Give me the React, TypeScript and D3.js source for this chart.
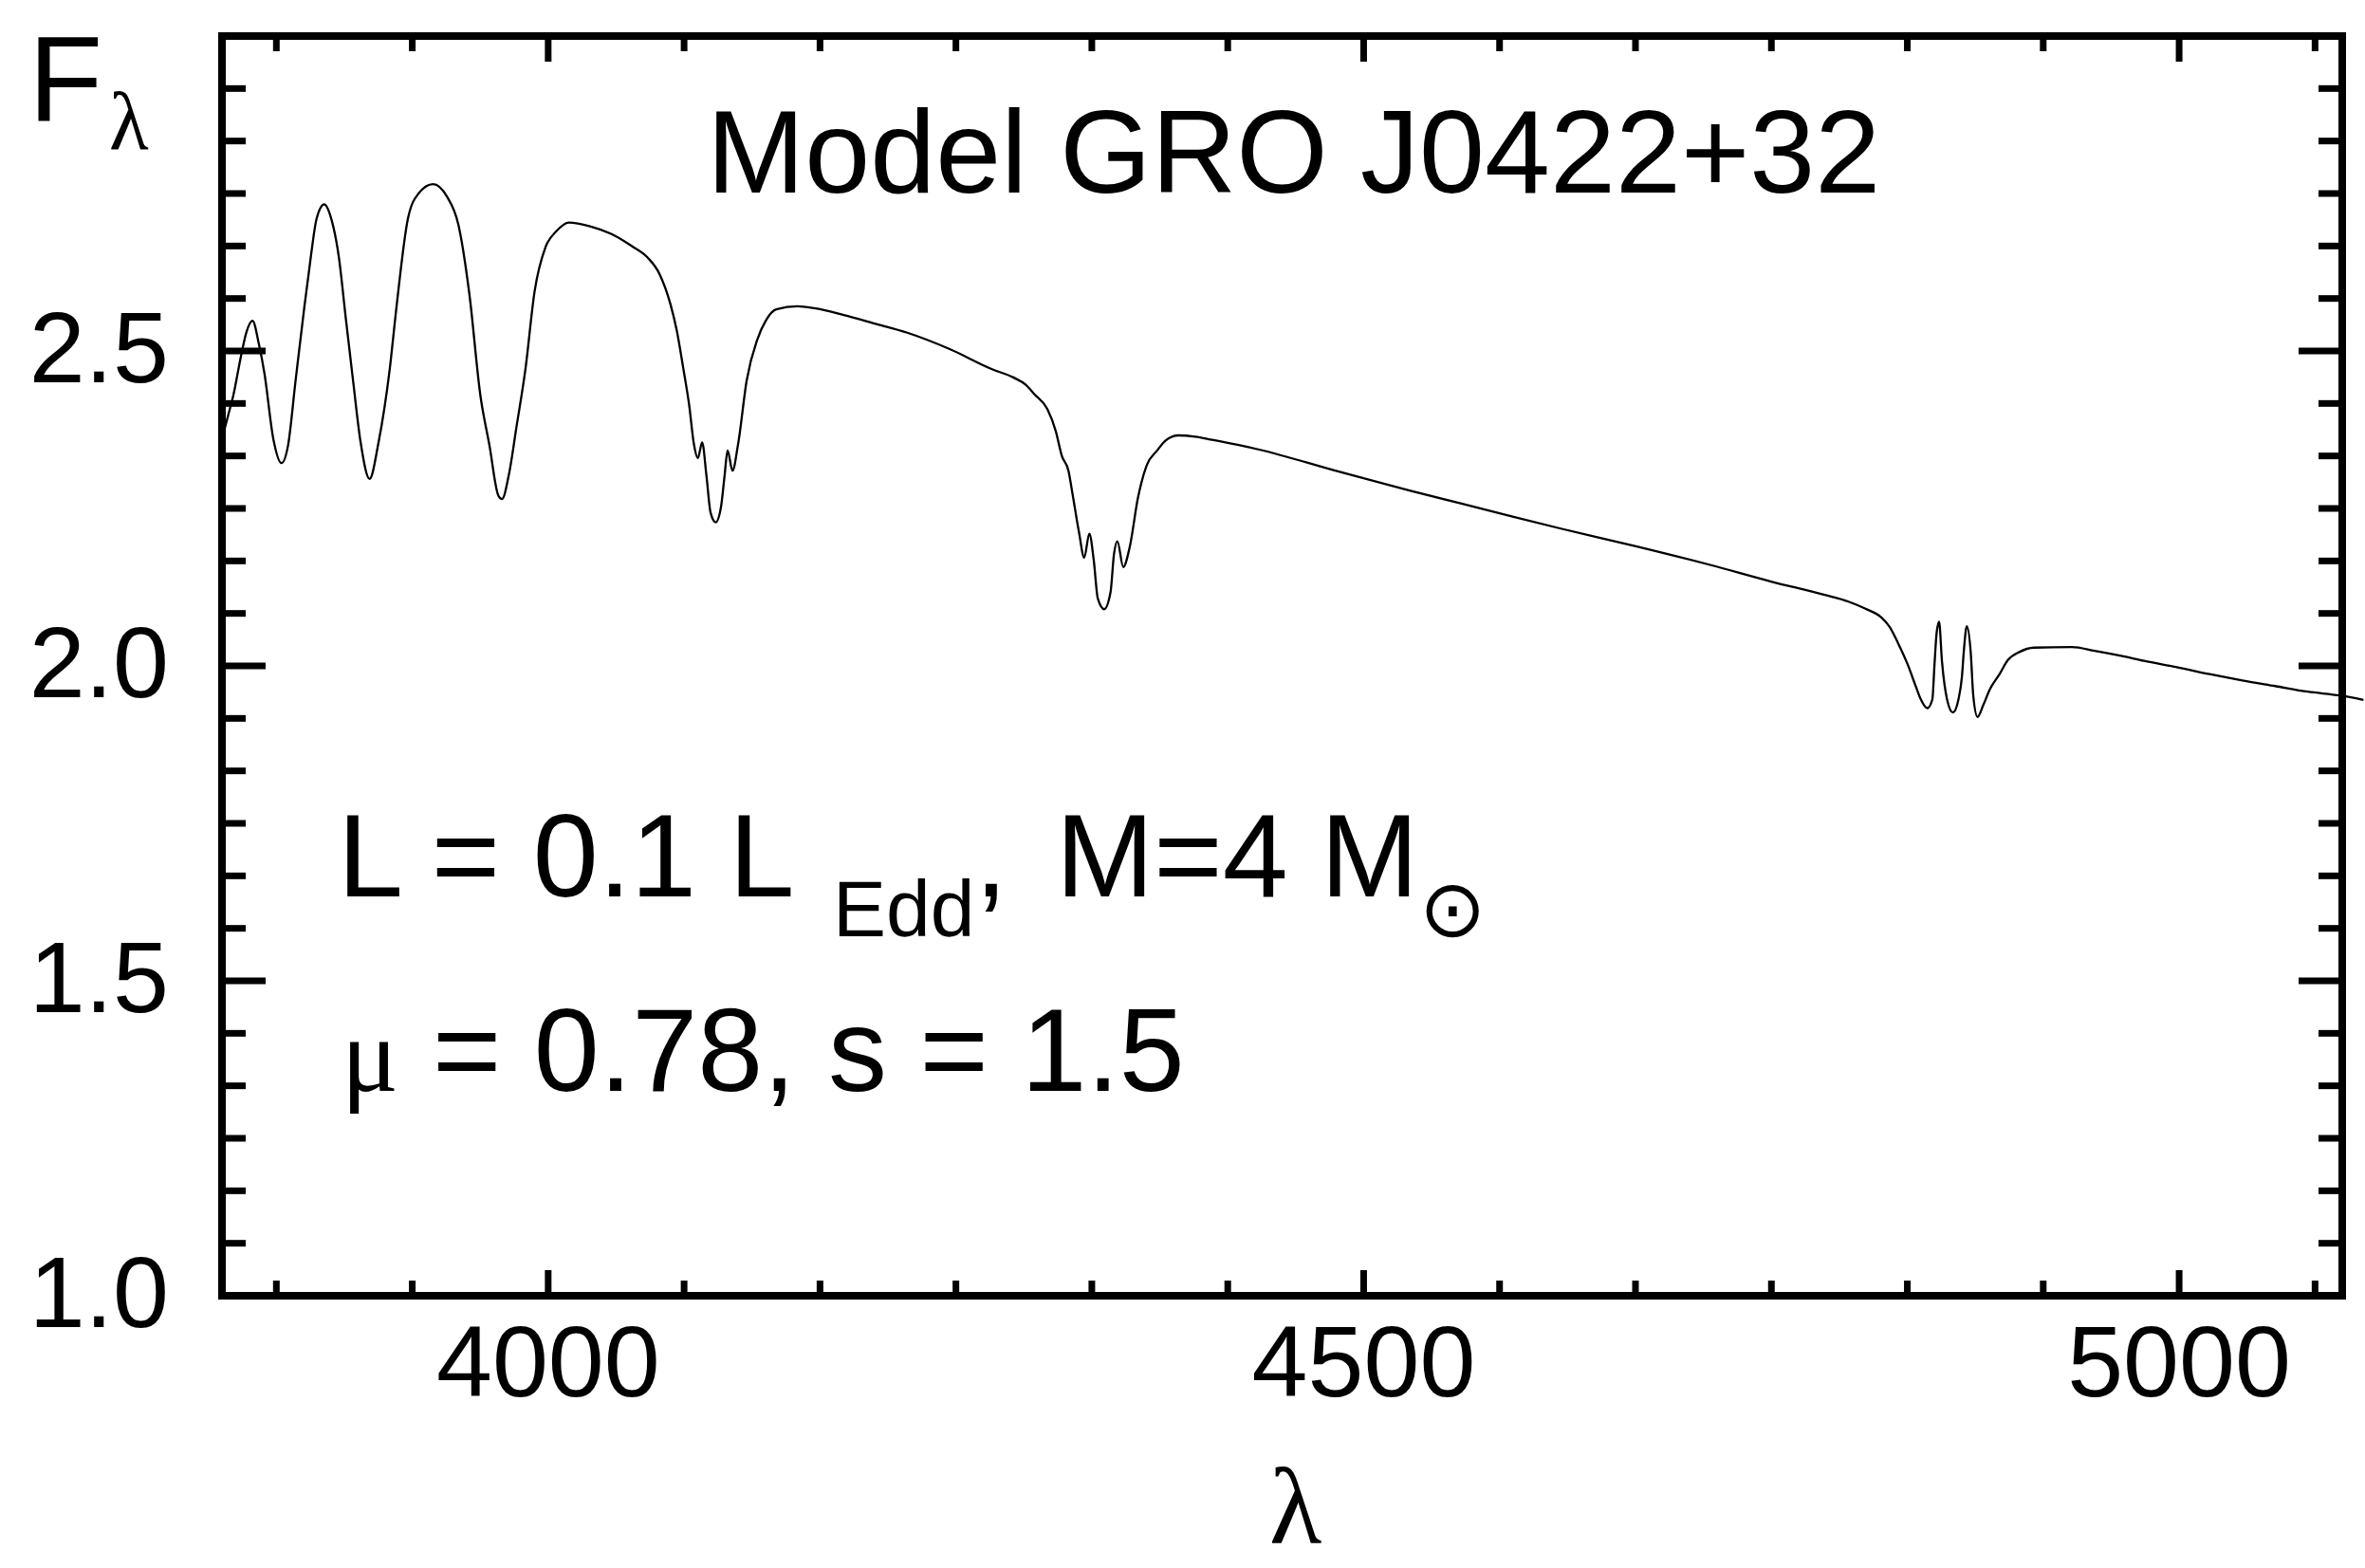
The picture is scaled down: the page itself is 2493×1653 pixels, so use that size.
import React, { useEffect, useRef } from "react";
import * as d3 from "d3";

// model spectrum: wavelength (A) and F_lambda
const wavelength = [
  3800, 3804, 3807, 3811.5, 3815, 3818.7, 3822.7, 3826, 3831.5, 3836.5,
  3840.5, 3845, 3850.5, 3854, 3858, 3862.7, 3867, 3871.6, 3876, 3880.5,
  3885, 3890.5, 3896, 3902.8, 3907, 3914, 3920.5, 3929.4, 3938, 3945,
  3951.7, 3958.4, 3964, 3969.5, 3971.7, 3976, 3980.6, 3986, 3991.7, 3998.4,
  4005, 4012.7, 4025.7, 4038.6, 4051.6, 4060.7, 4068.5, 4075, 4078.8, 4082.8,
  4086.5, 4089.3, 4091.8, 4094.4, 4097, 4099.6, 4102.7, 4106, 4108.2, 4110,
  4113, 4116.5, 4121.7, 4128.2, 4133.4, 4139.8, 4152.8, 4163.2, 4181.3, 4199.5,
  4220.2, 4246.2, 4272.2, 4285.2, 4293, 4298.2, 4306, 4311.2, 4315, 4319,
  4321.5, 4325.4, 4328.7, 4331.8, 4334.5, 4337, 4340.9, 4344.8, 4346.9, 4349,
  4352.6, 4356.5, 4361.7, 4366.9, 4373.4, 4378.6, 4386.4, 4396.7, 4407.1, 4422.7,
  4436.6, 4482.6, 4528.7, 4574.8, 4620.9, 4666.9, 4713, 4749.8, 4782.1, 4797.3,
  4807.4, 4817.4, 4822.5, 4827.5, 4833.6, 4838.6, 4841.6, 4845.6, 4848.7, 4850,
  4851.3, 4852.8, 4854.6, 4857.7, 4861.3, 4864.7, 4866.8, 4868.1, 4869.8, 4872.2,
  4873.8, 4876.4, 4879.8, 4883.8, 4889.9, 4894.9, 4902, 4911, 4934.2, 4948.2,
  4964.4, 4978.4, 4998.6, 5018.7, 5038.8, 5058.9, 5079, 5098.6, 5113
];
const flux = [
  2.36, 2.40, 2.43, 2.49, 2.53, 2.548, 2.51, 2.465, 2.36, 2.322,
  2.35, 2.45, 2.57, 2.64, 2.71, 2.733, 2.71, 2.65, 2.55, 2.45,
  2.355, 2.297, 2.355, 2.47, 2.57, 2.71, 2.75, 2.765, 2.745, 2.70,
  2.59, 2.43, 2.35, 2.27, 2.265, 2.305, 2.38, 2.47, 2.595, 2.665,
  2.69, 2.704, 2.698, 2.686, 2.666, 2.649, 2.621, 2.574, 2.533, 2.473,
  2.413, 2.353, 2.33, 2.355, 2.303, 2.243, 2.228, 2.253, 2.303, 2.342,
  2.31, 2.353, 2.453, 2.518, 2.548, 2.566, 2.571, 2.568, 2.557, 2.544,
  2.529, 2.503, 2.471, 2.458, 2.446, 2.431, 2.408, 2.373, 2.333, 2.31,
  2.273, 2.213, 2.172, 2.21, 2.168, 2.107, 2.09, 2.117, 2.177, 2.198,
  2.157, 2.188, 2.268, 2.318, 2.342, 2.358, 2.366, 2.364, 2.359, 2.351,
  2.343, 2.31, 2.278, 2.248, 2.218, 2.19, 2.16, 2.134, 2.113, 2.102,
  2.091, 2.077, 2.062, 2.037, 2.002, 1.967, 1.947, 1.933, 1.947, 2.002,
  2.052, 2.07, 2.007, 1.947, 1.926, 1.947, 1.982, 2.027, 2.063, 2.022,
  1.952, 1.919, 1.937, 1.962, 1.987, 2.009, 2.022, 2.029, 2.03, 2.024,
  2.016, 2.008, 1.998, 1.987, 1.977, 1.968, 1.959, 1.953, 1.946
];

const xMajorTicks = [4000, 4500, 5000];
const xTickLabels = ["4000", "4500", "5000"];
const yMajorTicks = [1.0, 1.5, 2.0, 2.5];
const yTickLabels = ["1.0", "1.5", "2.0", "2.5"];
const titleText = "Model GRO J0422+32";

const SANS = "'Liberation Sans', Arial, sans-serif";
const SERIF = "'Liberation Serif', 'Times New Roman', serif";

function App() {
  const chartRef = useRef<SVGSVGElement | null>(null);

  useEffect(() => {
    drawChart();
  }, []);

  const drawChart = () => {
    const width = 2493,
      height = 1653;
    const margin = { top: 38, right: 24, bottom: 287, left: 234 };

    const svg = d3.select(chartRef.current);
    svg.selectAll("*").remove();

    const x = d3.scaleLinear().domain([3800, 5100]).range([margin.left, width - margin.right]);
    const y = d3.scaleLinear().domain([1, 3]).range([height - margin.bottom, margin.top]);

    const x0 = x(3800), x1 = x(5100), yb = y(1), yt = y(3);

    // minor ticks: 6 per major step
    const xMinor = d3.range(-2, 14).map(k => 4000 + (k * 500) / 6).filter(v => v > 3800 && v < 5100);
    const yMinor = d3.range(1, 24).map(k => 1 + (k * 0.5) / 6);
    const isMajorX = (v: number) => xMajorTicks.some(m => Math.abs(m - v) < 1e-6);
    const isMajorY = (v: number) => [1, 1.5, 2, 2.5, 3].some(m => Math.abs(m - v) < 1e-6);

    const ticks = svg.append("g").attr("stroke", "#000").attr("stroke-width", 7);
    xMinor.forEach(v => {
      const len = isMajorX(v) ? 27 : 16;
      ticks.append("line").attr("x1", x(v)).attr("x2", x(v)).attr("y1", yb).attr("y2", yb - len);
      ticks.append("line").attr("x1", x(v)).attr("x2", x(v)).attr("y1", yt).attr("y2", yt + len);
    });
    yMinor.forEach(v => {
      const len = isMajorY(v) ? 46 : 25;
      ticks.append("line").attr("x1", x0).attr("x2", x0 + len).attr("y1", y(v)).attr("y2", y(v));
      ticks.append("line").attr("x1", x1).attr("x2", x1 - len).attr("y1", y(v)).attr("y2", y(v));
    });

    // frame
    svg.append("rect")
      .attr("x", x0).attr("y", yt)
      .attr("width", x1 - x0).attr("height", yb - yt)
      .attr("fill", "none").attr("stroke", "#000").attr("stroke-width", 8);

    // spectrum
    const line = d3.line<number>()
      .x((d, i) => x(wavelength[i]))
      .y(d => y(d))
      .curve(d3.curveMonotoneX);
    svg.append("path")
      .datum(flux)
      .attr("d", line)
      .attr("fill", "none")
      .attr("stroke", "#000")
      .attr("stroke-width", 2.3);

    // tick labels
    svg.append("g").selectAll("text")
      .data(xMajorTicks)
      .enter().append("text")
      .attr("x", d => x(d))
      .attr("y", 1472)
      .attr("text-anchor", "middle")
      .style("font-family", SANS)
      .style("font-size", "106px")
      .text((d, i) => xTickLabels[i]);

    svg.append("g").selectAll("text")
      .data(yMajorTicks)
      .enter().append("text")
      .attr("x", 178)
      .attr("y", d => y(d) + 33)
      .attr("text-anchor", "end")
      .style("font-family", SANS)
      .style("font-size", "106px")
      .text((d, i) => yTickLabels[i]);

    // title
    svg.append("text")
      .attr("x", 745).attr("y", 203)
      .style("font-family", SANS)
      .style("font-size", "124px")
      .text(titleText);

    // parameters
    const p1 = svg.append("text").attr("y", 945).style("font-family", SANS).style("font-size", "124px");
    p1.append("tspan").attr("x", 356).text("L = 0.1 L");
    p1.append("tspan").attr("x", 878).attr("y", 987).style("font-size", "84px").text("Edd");
    p1.append("tspan").attr("y", 945).text(",");
    p1.append("tspan").attr("x", 1113).text("M=4 M");
    p1.append("tspan").attr("x", 1496).attr("y", 987).style("font-family", "'DejaVu Sans', sans-serif").style("font-size", "84px").text("\u2299");

    const p2 = svg.append("text").attr("y", 1150).style("font-size", "124px");
    p2.append("tspan").attr("x", 360).style("font-family", SERIF).style("font-size", "112px").text("\u03bc");
    p2.append("tspan").attr("x", 456).style("font-family", SANS).text("= 0.78, s = 1.5");

    // axis labels
    const yl = svg.append("text").attr("y", 128).style("font-family", SANS).style("font-size", "128px");
    yl.append("tspan").attr("x", 30).text("F");
    yl.append("tspan").attr("x", 115).attr("y", 157).style("font-family", SERIF).style("font-size", "86px").text("\u03bb");

    svg.append("text")
      .attr("x", 1338).attr("y", 1626)
      .style("font-family", SERIF)
      .style("font-size", "114px")
      .text("\u03bb");
  };

  return (
    <svg
      ref={chartRef}
      width={2493}
      height={1653}
      style={{ position: "absolute", left: 0, top: 0, display: "block", background: "#fff" }}
    />
  );
}

export default App;
